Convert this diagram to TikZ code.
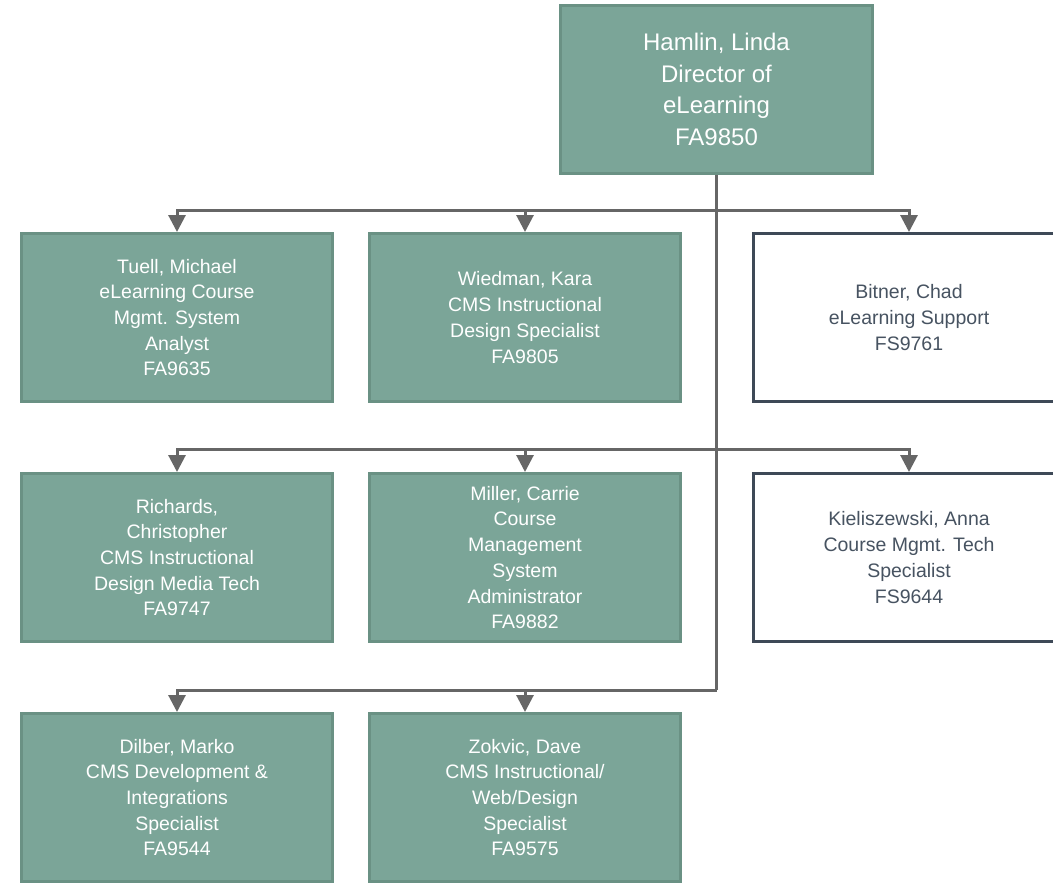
\documentclass[tikz,border=0pt]{standalone}
\usepackage{fontspec}
\setmainfont{Liberation Sans}
\usetikzlibrary{arrows.meta}
\definecolor{boxfill}{HTML}{7BA598}
\definecolor{boxline}{HTML}{6A9184}
\definecolor{slate}{HTML}{3E4957}
\definecolor{slatetext}{HTML}{475361}
\definecolor{conn}{HTML}{666666}
\begin{document}
\begin{tikzpicture}[x=1pt,y=-1pt,
  gbox/.style={draw=boxline, line width=3pt, fill=boxfill, text=white,
    minimum width=311pt, minimum height=168pt, align=center, inner sep=0pt,
    font=\fontsize{19.5}{25.7}\selectfont},
  wbox/.style={gbox, draw=slate, fill=white, text=slatetext},
  topbox/.style={gbox, minimum width=312pt, font=\fontsize{24}{31.7}\selectfont},
  bus/.style={draw=conn, line width=3pt},
  link/.style={bus, -{Triangle[width=17pt,length=17pt]}}]
\useasboundingbox (0,0) rectangle (1053,884);
\clip (0,0) rectangle (1053,884);

\node[topbox] (top) at (716.5,89.5) {Hamlin, Linda\\Director of\\eLearning\\FA9850};

\node[gbox] (a1) at (177,317.5) {Tuell, Michael\\eLearning Course\\Mgmt. System\\Analyst\\FA9635};
\node[gbox] (a2) at (525,317.5) {Wiedman, Kara\\CMS Instructional\\Design Specialist\\FA9805};
\node[wbox] (a3) at (909,317.5) {Bitner, Chad\\eLearning Support\\FS9761};

\node[gbox] (b1) at (177,557.5) {Richards,\\Christopher\\CMS Instructional\\Design Media Tech\\FA9747};
\node[gbox] (b2) at (525,557.5) {Miller, Carrie\\Course\\Management\\System\\Administrator\\FA9882};
\node[wbox] (b3) at (909,557.5) {Kieliszewski, Anna\\Course Mgmt. Tech\\Specialist\\FS9644};

\node[gbox] (c1) at (177,797.5) {Dilber, Marko\\CMS Development \&\\Integrations\\Specialist\\FA9544};
\node[gbox] (c2) at (525,797.5) {Zokvic, Dave\\CMS Instructional/\\Web/Design\\Specialist\\FA9575};

\coordinate (j1) at (716.5,210);
\coordinate (j2) at (716.5,449);
\coordinate (j3) at (716.5,690);

\draw[bus] (top.south) -- (j3);
\draw[link] (j1) -| (a1.north);
\draw[link] (j1) -| (a2.north);
\draw[link] (j1) -| (a3.north);
\draw[link] (j2) -| (b1.north);
\draw[link] (j2) -| (b2.north);
\draw[link] (j2) -| (b3.north);
\draw[link] (j3) -| (c1.north);
\draw[link] (j3) -| (c2.north);
\end{tikzpicture}
\end{document}
